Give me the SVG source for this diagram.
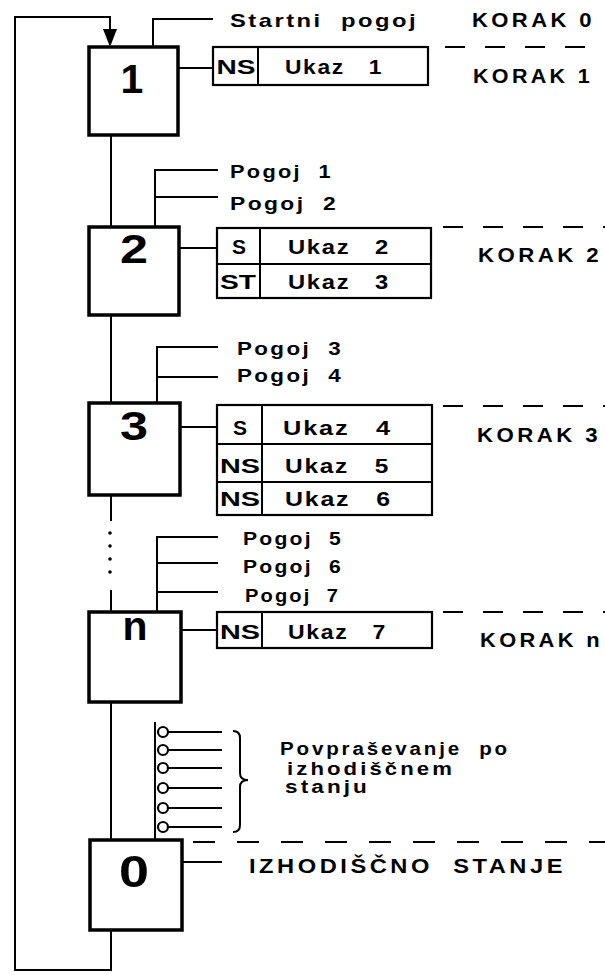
<svg xmlns="http://www.w3.org/2000/svg" width="605" height="975" viewBox="0 0 605 975">
<style>
  .ln{fill:none;stroke:#000;stroke-width:2}
  .dash{fill:none;stroke:#000;stroke-width:2;stroke-dasharray:20 20}
  .step{fill:#fff;stroke:#000;stroke-width:3.5}
  .act{fill:#fff;stroke:#000;stroke-width:2.2}
  text{font-family:"Liberation Sans",Arial,sans-serif;font-weight:bold;white-space:pre}
  .num{font-size:41px;text-anchor:middle}
  .t{font-size:19px;letter-spacing:2px}
  .u{font-size:21px;letter-spacing:1.5px}
  .k{font-size:19.5px;letter-spacing:3px}
  .q{font-size:18px;letter-spacing:2.5px}
  .c{font-size:21px;text-anchor:middle}
  .big{font-size:20px;letter-spacing:3px}
  .bulb{fill:#fff;stroke:#000;stroke-width:2.2}
</style>

<g id="connectors">
  <path class="ln" d="M111,135 V227 M111,315 V403 M111,495 V521 M111,590 V612 M111,702 V840 M111,930 V970 H15 V17 H110 V30"/>
  <polygon points="103,29 117,29 110,47" fill="#000"/>
  <g fill="#000">
    <circle cx="110" cy="533" r="1.8"/>
    <circle cx="110" cy="546" r="1.8"/>
    <circle cx="110" cy="559" r="1.8"/>
    <circle cx="110" cy="572" r="1.8"/>
  </g>
  <path class="ln" d="M178,68 H213 M179,248 H217 M180,427 H217 M181,630 H217 M182,862 H222"/>
  <path class="dash" d="M445,47 H605 M443,227 H605 M443,406 H605 M443,612 H605"/>
  <path class="dash" d="M193,842 H605" style="stroke-dasharray:22 22"/>
</g>

<g id="cond0">
  <path class="ln" d="M153,47 V19 H213"/>
  <text class="t" x="230" y="27" textLength="188" lengthAdjust="spacingAndGlyphs">Startni  pogoj</text>
</g>

<g id="cond1">
  <path class="ln" d="M155,227 V170 H218 M155,197 H218"/>
  <text class="t" x="230" y="178" textLength="103" lengthAdjust="spacingAndGlyphs">Pogoj  1</text>
  <text class="t" x="230" y="210" textLength="108" lengthAdjust="spacingAndGlyphs">Pogoj  2</text>
</g>

<g id="cond2">
  <path class="ln" d="M157,403 V347 H218 M157,377 H218"/>
  <text class="t" x="237" y="355" textLength="106" lengthAdjust="spacingAndGlyphs">Pogoj  3</text>
  <text class="t" x="237" y="382" textLength="106" lengthAdjust="spacingAndGlyphs">Pogoj  4</text>
</g>

<g id="cond3">
  <path class="ln" d="M157,612 V537 H218 M157,563 H218 M157,592 H218"/>
  <text class="t" x="243" y="545" textLength="100" lengthAdjust="spacingAndGlyphs">Pogoj  5</text>
  <text class="t" x="243" y="573" textLength="100" lengthAdjust="spacingAndGlyphs">Pogoj  6</text>
  <text class="t" x="245" y="602" textLength="95" lengthAdjust="spacingAndGlyphs">Pogoj  7</text>
</g>

<g id="step1">
  <rect class="step" x="89" y="47" width="89" height="88"/>
  <text class="num" x="132" y="93">1</text>
</g>
<g id="action1">
  <rect class="act" x="213" y="47" width="215" height="38"/>
  <line class="ln" x1="258" y1="47" x2="258" y2="85"/>
  <text class="c" x="236" y="74" textLength="39" lengthAdjust="spacingAndGlyphs">NS</text>
  <text class="u" x="285" y="74" textLength="98" lengthAdjust="spacingAndGlyphs">Ukaz   1</text>
</g>

<g id="step2">
  <rect class="step" x="89" y="227" width="90" height="88"/>
  <text class="num" x="134" y="263" textLength="28" lengthAdjust="spacingAndGlyphs">2</text>
</g>
<g id="action2">
  <rect class="act" x="217" y="228" width="214" height="70"/>
  <line class="ln" x1="260" y1="228" x2="260" y2="298"/>
  <line class="ln" x1="217" y1="264" x2="431" y2="264"/>
  <text class="c" x="239" y="254">S</text>
  <text class="u" x="288" y="254" textLength="102" lengthAdjust="spacingAndGlyphs">Ukaz   2</text>
  <text class="c" x="238" y="289" textLength="36" lengthAdjust="spacingAndGlyphs">ST</text>
  <text class="u" x="288" y="289" textLength="102" lengthAdjust="spacingAndGlyphs">Ukaz   3</text>
</g>

<g id="step3">
  <rect class="step" x="89" y="403" width="91" height="92"/>
  <text class="num" x="134" y="440" textLength="28" lengthAdjust="spacingAndGlyphs">3</text>
</g>
<g id="action3">
  <rect class="act" x="217" y="405" width="215" height="110"/>
  <line class="ln" x1="262" y1="405" x2="262" y2="515"/>
  <line class="ln" x1="217" y1="444" x2="432" y2="444"/>
  <line class="ln" x1="217" y1="482" x2="432" y2="482"/>
  <text class="c" x="240" y="435">S</text>
  <text class="u" x="283" y="435" textLength="109" lengthAdjust="spacingAndGlyphs">Ukaz   4</text>
  <text class="c" x="240" y="473" textLength="40" lengthAdjust="spacingAndGlyphs">NS</text>
  <text class="u" x="285" y="473" textLength="105" lengthAdjust="spacingAndGlyphs">Ukaz   5</text>
  <text class="c" x="240" y="506" textLength="40" lengthAdjust="spacingAndGlyphs">NS</text>
  <text class="u" x="285" y="506" textLength="107" lengthAdjust="spacingAndGlyphs">Ukaz   6</text>
</g>

<g id="stepn">
  <rect class="step" x="89" y="612" width="92" height="90"/>
  <text class="num" x="135" y="640" textLength="25" lengthAdjust="spacingAndGlyphs">n</text>
</g>
<g id="actionn">
  <rect class="act" x="217" y="612" width="215" height="36"/>
  <line class="ln" x1="262" y1="612" x2="262" y2="648"/>
  <text class="c" x="240" y="639" textLength="40" lengthAdjust="spacingAndGlyphs">NS</text>
  <text class="u" x="288" y="639" textLength="99" lengthAdjust="spacingAndGlyphs">Ukaz   7</text>
</g>

<g id="query">
  <path class="ln" d="M155,722 V840"/>
  <path class="ln" d="M168,732 H222 M168,750 H222 M168,768 H222 M168,788 H222 M168,808 H222 M168,827 H222"/>
  <circle class="bulb" cx="163" cy="732" r="5"/>
  <circle class="bulb" cx="163" cy="750" r="5"/>
  <circle class="bulb" cx="163" cy="768" r="5"/>
  <circle class="bulb" cx="163" cy="788" r="5"/>
  <circle class="bulb" cx="163" cy="808" r="5"/>
  <circle class="bulb" cx="163" cy="827" r="5"/>
  <path class="ln" d="M233,731 Q240,731 240,738 V773 Q240,780 248,780 Q240,780 240,787 V825 Q240,832 233,832"/>
  <text class="q" x="280" y="755" textLength="230" lengthAdjust="spacingAndGlyphs">Povpraševanje  po</text>
  <text class="q" x="287" y="775" textLength="168" lengthAdjust="spacingAndGlyphs">izhodiščnem</text>
  <text class="q" x="285" y="793" textLength="85" lengthAdjust="spacingAndGlyphs">stanju</text>
</g>

<g id="step0">
  <rect class="step" x="90" y="840" width="92" height="90"/>
  <text class="num" x="134" y="887" textLength="30" lengthAdjust="spacingAndGlyphs" style="font-size:44px">0</text>
  <text class="big" x="249" y="873" textLength="317" lengthAdjust="spacingAndGlyphs">IZHODIŠČNO  STANJE</text>
</g>

<g id="labels">
  <text class="k" x="472" y="27" textLength="123" lengthAdjust="spacingAndGlyphs">KORAK 0</text>
  <text class="k" x="473" y="83" textLength="120" lengthAdjust="spacingAndGlyphs">KORAK 1</text>
  <text class="k" x="478" y="262" textLength="124" lengthAdjust="spacingAndGlyphs">KORAK 2</text>
  <text class="k" x="477" y="442" textLength="124" lengthAdjust="spacingAndGlyphs">KORAK 3</text>
  <text class="k" x="480" y="647" textLength="123" lengthAdjust="spacingAndGlyphs">KORAK n</text>
</g>
</svg>
